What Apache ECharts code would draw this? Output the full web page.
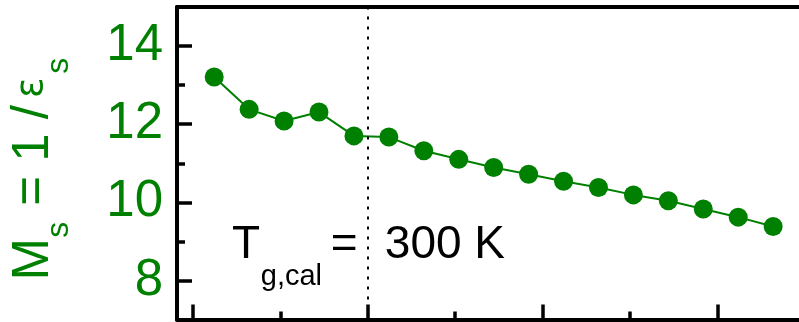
<!DOCTYPE html>
<html>
<head>
<meta charset="utf-8">
<script src="https://cdn.jsdelivr.net/npm/echarts@6/dist/echarts.min.js"></script>
<style>
  html, body { margin: 0; padding: 0; background: #fff; }
  #chart { width: 799px; height: 322px; }
</style>
</head>
<body>
<div id="chart"></div>
<script>
// temperature (K) and M_s values
var temps = [212, 232, 252, 272, 292, 312, 332, 352, 372, 392, 412, 432, 452, 472, 492, 512, 532];
var msValues = [13.21, 12.38, 12.08, 12.31, 11.70, 11.67, 11.32, 11.10, 10.89, 10.72, 10.54, 10.38, 10.19, 10.04, 9.83, 9.62, 9.38];
var majorX = [200, 300, 400, 500];
var minorX = [250, 350, 450];
var majorY = [8, 10, 12, 14];
var minorY = [9, 11, 13];
var tCal = 300;

var green = "#008000";
var font = "'Liberation Sans', Arial, Helvetica, sans-serif";

var chartDom = document.getElementById("chart");
var myChart = echarts.init(chartDom);
var option;

var xMin = 190.7, xMax = 546.8;

function xAx(pos, ticks, len, showLine) {
  return {
    type: "value",
    position: pos,
    min: xMin,
    max: xMax,
    axisLine: { show: showLine, onZero: false, lineStyle: { color: "#000", width: 4 } },
    axisTick: ticks ? { show: true, inside: true, length: len, customValues: ticks, lineStyle: { color: "#000", width: 3.5 } } : { show: false },
    axisLabel: { show: false },
    splitLine: { show: false },
  };
}

function txt(x, y, str, size, color, rot, fam) {
  return {
    type: "text", x: x, y: y, rotation: rot || 0, silent: true, z: 10,
    style: {
      text: str, font: size + "px " + (fam || font), fill: color,
      textAlign: "left", textVerticalAlign: "middle", align: "left", verticalAlign: "middle",
    },
  };
}

var up = Math.PI / 2;

option = {
  animation: false,
  grid: { left: 177, right: 0, top: 7, bottom: 2.5 },
  xAxis: [
    xAx("bottom", majorX, 15, true),
    xAx("bottom", minorX, 8, false),
    xAx("top", null, 0, true),
  ],
  yAxis: [
    {
      type: "value",
      position: "left",
      min: 7,
      max: 15,
      axisLine: { show: true, onZero: false, lineStyle: { color: "#000", width: 4 } },
      axisTick: { inside: true, length: 15, customValues: majorY, lineStyle: { color: "#000", width: 3.5 } },
      axisLabel: {
        customValues: majorY,
        color: green,
        fontSize: 51,
        fontFamily: font,
        margin: 14,
        padding: [0, 0, 6, 0],
      },
      splitLine: { show: false },
    },
    {
      type: "value",
      position: "left",
      offset: 0,
      min: 7,
      max: 15,
      axisLine: { show: false },
      axisTick: { inside: true, length: 8, customValues: minorY, lineStyle: { color: "#000", width: 3.5 } },
      axisLabel: { show: false },
      splitLine: { show: false },
    },
  ],
  series: [
    {
      type: "line",
      data: temps.map(function (t, i) { return [t, msValues[i]]; }),
      symbol: "circle",
      symbolSize: 19,
      lineStyle: { color: green, width: 2 },
      itemStyle: { color: green },
      markLine: {
        silent: true,
        symbol: ["none", "none"],
        label: { show: false },
        lineStyle: { color: "#000", width: 2, type: [3, 7] },
        data: [{ xAxis: tCal }],
      },
    },
  ],
  graphic: [
    // y axis title, rotated
    txt(34, 280.5, "M", 51, green, up),
    txt(59, 237.7, "s", 32, green, up),
    txt(34, 205.8, "= 1 /", 51, green, up),
    txt(31.8, 98, "\u03b5", 38, green, up, "'DejaVu Sans', sans-serif"),
    txt(59, 73.7, "s", 32, green, up),
    // T_g,cal = 300 K
    txt(232, 245.7, "T", 46, "#000"),
    txt(260.8, 276.6, "g,cal", 29, "#000"),
    txt(330.7, 245.7, "=", 46, "#000"),
    txt(384.8, 245.7, "300 K", 46, "#000"),
  ],
};

option && myChart.setOption(option);
</script>
</body>
</html>
